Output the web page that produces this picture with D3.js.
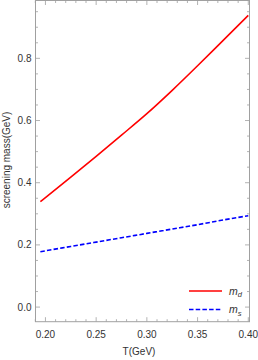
<!DOCTYPE html>
<html>
<head>
<meta charset="utf-8">
<script src="https://cdn.jsdelivr.net/npm/d3@7"></script>
<style>
  body { margin: 0; background: #fff; }
  svg { display: block; font-family: "Liberation Sans", Arial, sans-serif; }
</style>
</head>
<body>
<svg id="chart" width="258" height="360"></svg>
<script>
// screening masses vs temperature
var tempT = [0.195, 0.20, 0.225, 0.25, 0.275, 0.30, 0.325, 0.35, 0.375, 0.40];
var mdVals = [0.339, 0.352, 0.418, 0.485, 0.553, 0.622, 0.697, 0.776, 0.857, 0.938];
var msVals = [0.178, 0.181, 0.195, 0.209, 0.223, 0.237, 0.251, 0.265, 0.280, 0.294];
var xTicks = [0.20, 0.25, 0.30, 0.35, 0.40];
var yTicks = [0.0, 0.2, 0.4, 0.6, 0.8];
var legendItems = [
  {name: 'm', sub: 'd', color: '#ff0000', dash: null},
  {name: 'm', sub: 's', color: '#0000ff', dash: '4.5,2.2'}
];

// plot frame (window.top is reserved, so use other names)
var frameL = 35.5, frameR = 249.5, frameT = 0.5, frameB = 321.7;
var svg = d3.select('#chart');

var x = d3.scaleLinear().domain([0.1902, 0.4012]).range([frameL, frameR]);
var y = d3.scaleLinear().domain([-0.047, 0.986]).range([frameB, frameT]);

var axisColor = '#a0a0a0';
var textColor = '#333';

svg.append('rect')
  .attr('x', frameL).attr('y', frameT)
  .attr('width', frameR - frameL).attr('height', frameB - frameT)
  .attr('fill', 'none')
  .attr('stroke', axisColor)
  .attr('stroke-width', 1);

// minor ticks
var xMinor = d3.range(0.19, 0.4015, 0.01).filter(function(d) {
  return xTicks.every(function(t) { return Math.abs(t - d) > 1e-6; });
});
var yMinor = d3.range(-0.05, 0.99, 0.05).filter(function(d) {
  return d >= -0.047 && yTicks.every(function(t) { return Math.abs(t - d) > 1e-6; });
});

var g = svg.append('g').attr('stroke', axisColor).attr('stroke-width', 0.8);

function xTick(d, len) {
  g.append('line').attr('x1', x(d)).attr('x2', x(d)).attr('y1', frameB).attr('y2', frameB - len);
  g.append('line').attr('x1', x(d)).attr('x2', x(d)).attr('y1', frameT).attr('y2', frameT + len);
}
function yTick(d, len) {
  g.append('line').attr('y1', y(d)).attr('y2', y(d)).attr('x1', frameL).attr('x2', frameL + len);
  g.append('line').attr('y1', y(d)).attr('y2', y(d)).attr('x1', frameR).attr('x2', frameR - len);
}
xTicks.forEach(function(d) { xTick(d, 4.5); });
xMinor.forEach(function(d) { xTick(d, 2.5); });
yTicks.forEach(function(d) { yTick(d, 4.5); });
yMinor.forEach(function(d) { yTick(d, 2.5); });

// tick labels
svg.selectAll('.xlab')
  .data(xTicks)
  .enter()
  .append('text')
  .attr('x', function(d) { return x(d); })
  .attr('y', 337.5)
  .attr('text-anchor', 'middle')
  .attr('font-size', 10)
  .attr('fill', textColor)
  .text(function(d) { return d.toFixed(2); });

svg.selectAll('.ylab')
  .data(yTicks)
  .enter()
  .append('text')
  .attr('x', 31.5)
  .attr('y', function(d) { return y(d) + 3.5; })
  .attr('text-anchor', 'end')
  .attr('font-size', 10)
  .attr('fill', textColor)
  .text(function(d) { return d.toFixed(1); });

// axis titles
svg.append('text')
  .attr('x', 139)
  .attr('y', 355)
  .attr('text-anchor', 'middle')
  .attr('font-size', 10)
  .attr('fill', textColor)
  .text('T(GeV)');

svg.append('text')
  .attr('transform', 'translate(10,160) rotate(-90)')
  .attr('text-anchor', 'middle')
  .attr('font-size', 10)
  .attr('fill', textColor)
  .text('screening mass(GeV)');

// curves
var line = d3.line()
  .x(function(d) { return x(d[0]); })
  .y(function(d) { return y(d[1]); })
  .curve(d3.curveMonotoneX);

svg.append('path')
  .datum(d3.zip(tempT, mdVals))
  .attr('d', line)
  .attr('fill', 'none')
  .attr('stroke', '#ff0000')
  .attr('stroke-width', 1.6);

svg.append('path')
  .datum(d3.zip(tempT, msVals))
  .attr('d', line)
  .attr('fill', 'none')
  .attr('stroke', '#0000ff')
  .attr('stroke-width', 1.6)
  .attr('stroke-dasharray', '4.5,2.2');

// legend
var leg = svg.selectAll('.leg')
  .data(legendItems)
  .enter()
  .append('g')
  .attr('transform', function(d, i) { return 'translate(189,' + (291 + i * 18.5) + ')'; });

leg.append('line')
  .attr('x1', 0).attr('x2', 33)
  .attr('stroke', function(d) { return d.color; })
  .attr('stroke-width', 1.6)
  .attr('stroke-dasharray', function(d) { return d.dash; });

var lt = leg.append('text')
  .attr('x', 40)
  .attr('y', 3.5)
  .attr('font-size', 10.5)
  .attr('font-style', 'italic')
  .attr('fill', textColor);
lt.append('tspan').text(function(d) { return d.name; });
lt.append('tspan')
  .attr('dy', 2.5)
  .attr('font-size', 7.5)
  .text(function(d) { return d.sub; });
</script>
</body>
</html>
